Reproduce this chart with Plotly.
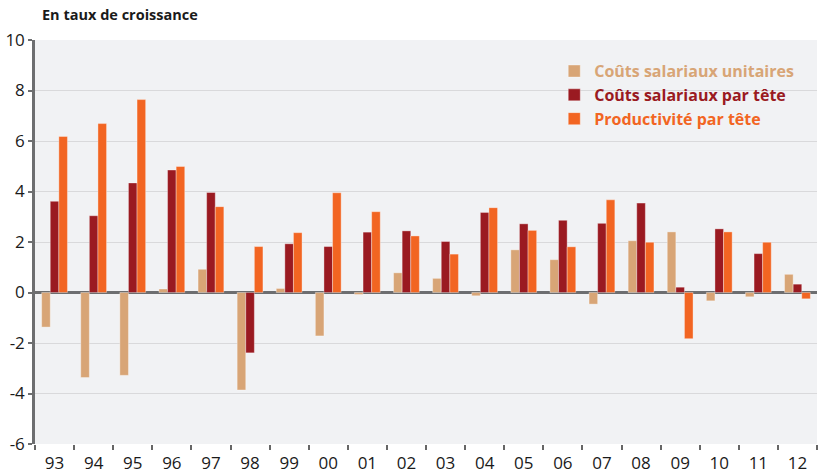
import plotly.graph_objects as go

years = ["93", "94", "95", "96", "97", "98", "99", "00", "01", "02",
         "03", "04", "05", "06", "07", "08", "09", "10", "11", "12"]

couts_unitaires = [-1.37, -3.37, -3.28, 0.14, 0.92, -3.86, 0.16, -1.72, -0.08, 0.78,
                   0.56, -0.13, 1.69, 1.30, -0.46, 2.05, 2.40, -0.33, -0.17, 0.72]
couts_par_tete = [3.61, 3.04, 4.34, 4.85, 3.96, -2.39, 1.93, 1.82, 2.39, 2.44,
                  2.02, 3.17, 2.72, 2.86, 2.74, 3.54, 0.21, 2.52, 1.54, 0.33]
productivite = [6.18, 6.69, 7.64, 4.99, 3.40, 1.82, 2.37, 3.95, 3.20, 2.24,
                1.52, 3.36, 2.46, 1.81, 3.67, 1.99, -1.83, 2.40, 1.99, -0.25]

y_ticks = [-6, -4, -2, 0, 2, 4, 6, 8, 10]
y_ticklabels = ["-6", "-4", "-2", "0", "2", "4", "6", "8", "10"]

C_BEIGE = "#D8A576"
C_RED = "#9A1A21"
C_ORANGE = "#F26522"

series = [
    ("Coûts salariaux unitaires", couts_unitaires, C_BEIGE),
    ("Coûts salariaux par tête", couts_par_tete, C_RED),
    ("Productivité par tête", productivite, C_ORANGE),
]

fig = go.Figure()
for name, vals, col in series:
    fig.add_trace(go.Bar(
        x=years, y=vals,
        name=f"<span style='color:{col}'><b>{name}</b></span>",
        marker=dict(color=col, line=dict(color="rgba(255,255,255,0.35)", width=1)),
    ))

fig.update_layout(
    width=818, height=475,
    barmode="group", bargap=0.34, bargroupgap=0,
    paper_bgcolor="white", plot_bgcolor="#F1F2F4",
    margin=dict(l=35, r=1, t=40, b=31, autoexpand=False),
    font=dict(family="Open Sans", size=17, color="#1a1a1a"),
    showlegend=True,
    legend=dict(x=0.664, y=0.965, xanchor="left", yanchor="top",
                bgcolor="rgba(0,0,0,0)", font=dict(family="Open Sans", size=16),
                tracegroupgap=0, itemwidth=30),
    title=dict(text="<b>En taux de croissance</b>", x=42 / 818, xref="container",
               xanchor="left", y=1 - 15 / 475, yref="container", yanchor="middle",
               font=dict(family="Open Sans", size=14.5, color="#1a1a1a")),
)

fig.update_xaxes(
    showgrid=False, showline=False, zeroline=False, automargin=False,
    ticks="outside", tickson="boundaries", ticklen=5, tickwidth=1.5, tickcolor="#666666",
    ticklabelstandoff=7,
    tickfont=dict(size=17), type="category",
)
fig.update_yaxes(
    range=[-6, 10], tickvals=y_ticks, ticktext=y_ticklabels, automargin=False,
    showgrid=True, gridcolor="#D9D9DB", gridwidth=1,
    showline=True, linecolor="#6D6E70", linewidth=2.5,
    zeroline=True, zerolinecolor="#6D6E70", zerolinewidth=2.5,
    ticks="outside", ticklen=4, tickcolor="#6D6E70", tickwidth=1.5,
    tickfont=dict(size=17),
)

fig.write_html("out.html", config={"displayModeBar": False},
               post_script="document.body.style.margin='0';document.body.style.overflow='hidden';")
